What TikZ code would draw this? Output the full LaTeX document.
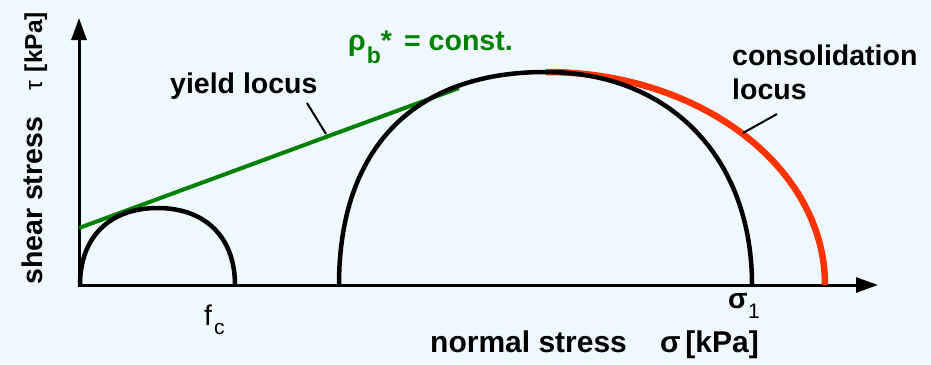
\documentclass[tikz,border=0pt]{standalone}
\usepackage{fontspec}
\setmainfont{Liberation Sans}
\usetikzlibrary{arrows.meta}
\definecolor{bgblue}{RGB}{240,248,255}
\definecolor{ygreen}{RGB}{0,128,0}
\definecolor{cred}{RGB}{255,51,0}
\begin{document}
\begin{tikzpicture}[x=1pt,y=-1pt,
  lbl/.style={inner sep=0pt,font=\fontsize{28.5}{32}\selectfont\bfseries},
  lblbig/.style={inner sep=0pt,font=\fontsize{30}{34}\selectfont\bfseries},
  lblr/.style={inner sep=0pt,font=\fontsize{28.5}{32}\selectfont},
  sub/.style={inner sep=0pt,font=\fontsize{21}{24}\selectfont},
  axis/.style={line width=3pt,{Triangle[length=22pt,width=15pt]}-{Triangle[length=22pt,width=15pt]}},
  mohr/.style={line width=4.5pt,black},
  leader/.style={line width=2pt,black}]
\fill[bgblue] (0,0) rectangle (931,364);
\useasboundingbox (0,0) rectangle (931,364);
% axes
\coordinate (ytip) at (79,18);
\coordinate (O) at (79,285);
\coordinate (xtip) at (878,285);
\draw[axis] (ytip) -- (O) -- (xtip);
% consolidation locus
\draw[cred,line width=6.5pt] (546,72) arc[start angle=90,end angle=0,x radius=279pt,y radius=213pt] coordinate (cend);
% yield locus
\coordinate (yl0) at (79,228);
\coordinate (yl1) at (459,88);
\draw[ygreen,line width=4pt] (yl0) -- (yl1);
% Mohr circles
\draw[mohr] (80,285) .. controls (80,237.3) and (109.5,208) .. (157.5,208)
  .. controls (205.5,208) and (235,237.3) .. (235,285);
\draw[mohr] (339,285) .. controls (339,148.7) and (413.3,72) .. (545.5,72)
  .. controls (669.4,72) and (752,157.2) .. (752,285);
% labels
\node[lbl,anchor=base west] (yield) at (170,93) {yield locus};
\coordinate (yieldfoot) at (326,134);
\draw[leader] (307,103) -- (yieldfoot);
\node[lbl,anchor=base west] (cons) at (732,65) {consolidation};
\node[lbl,anchor=base west] (locus) at (732,99) {locus};
\coordinate (consfoot) at (743,133);
\draw[leader] (777,114) -- (consfoot);
% rho_b* = const.
\node[lbl,text=ygreen,anchor=base west] (rho) at (348,50)
  {ρ\hspace{1pt}\rlap{\raisebox{-13pt}{\fontsize{23}{26}\selectfont\bfseries b}}\hspace{14pt}*};
\node[lbl,text=ygreen,anchor=base west] (const) at (404,50) {= const.};
% y label
\node[lbl,rotate=90,anchor=base west] (shear) at (42,285) {shear stress};
\node[inner sep=0pt,rotate=90,anchor=base east,font=\fontsize{24.5}{28}\selectfont] (taulbl) at (42,12) {τ\hspace{9pt}\textbf{[kPa]}};
% x labels
\node[lblr,anchor=base west] (f) at (204,325) {f};
\node[sub,anchor=base west] (fc) at (214,334) {c};
\node[lbl,anchor=base west] (sig1) at (728,308) {σ};
\node[sub,anchor=base west] (one) at (748,318) {1};
\node[lblbig,anchor=base west] (normal) at (430,352) {normal stress};
\node[lblbig,anchor=base west] (sigma) at (660,352) {σ};
\node[lblbig,anchor=base east] (kpa) at (759,352) {[kPa]};
\end{tikzpicture}
\end{document}
